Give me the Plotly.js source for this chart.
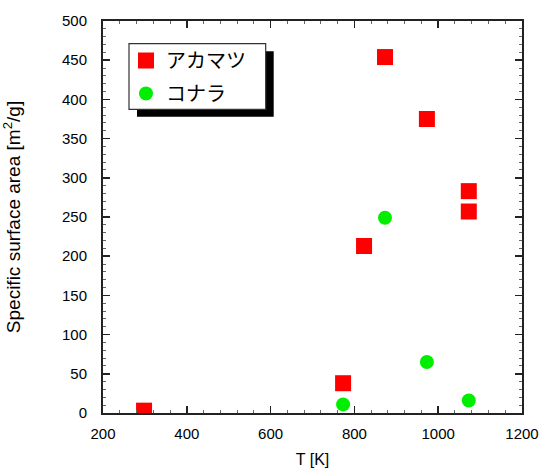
<!DOCTYPE html>
<html>
<head>
<meta charset="utf-8">
<script src="https://cdn.plot.ly/plotly-3.0.1.min.js"></script>
<style>html,body{margin:0;padding:0;background:#fff;}#chart{width:541px;height:468px;}</style>
</head>
<body>
<div id="chart"></div>
<script>
const akamatsuName = "アカマツ";
const akamatsuT = [298, 773, 823, 873, 973, 1073, 1073];
const akamatsuArea = [3, 38, 213, 454, 375, 283, 257];

const konaraName = "コナラ";
const konaraT = [773, 873, 973, 1073];
const konaraArea = [11, 249, 65, 16];

const xTitle = "T [K]";
const yTitle = "Specific surface area [m<sup>2</sup>/g]";

const FONT = "Liberation Sans, Arial, Helvetica, Noto Sans CJK JP, sans-serif";

// plot area in pixels
const L = 103, R = 19, T = 21, B = 55, W = 541, H = 468;
const PW = W - L - R, PH = H - T - B;
const px = v => (v - L) / PW;
const py = v => 1 - (v - T) / PH;

const traces = [
  {
    x: akamatsuT, y: akamatsuArea, name: akamatsuName, type: "scatter", mode: "markers",
    legendgroup: "a",
    marker: {symbol: "square", size: 16, color: "#ff0000"}
  },
  {
    x: konaraT, y: konaraArea, name: konaraName, type: "scatter", mode: "markers",
    legendgroup: "b",
    marker: {symbol: "circle", size: 14, color: "#00ee00"}
  }
];

const axisCommon = {
  showgrid: false, zeroline: false,
  showline: true, linecolor: "#222", linewidth: 2, mirror: "ticks",
  ticks: "inside", ticklen: 7, tickwidth: 1.5, tickcolor: "#222",
  tickfont: {family: FONT, size: 15, color: "#000"},
  minor: {ticks: "inside", ticklen: 3, tickwidth: 1, tickcolor: "#666"}
};

const layout = {
  width: W, height: H,
  margin: {l: L, r: R, t: T, b: B},
  paper_bgcolor: "#fff", plot_bgcolor: "#fff",
  font: {family: FONT, color: "#000"},
  showlegend: true,
  xaxis: Object.assign({}, axisCommon, {
    range: [200, 1200], dtick: 200, tick0: 200,
    ticklabelstandoff: 6,
    minor: Object.assign({}, axisCommon.minor, {dtick: 40}),
    title: {text: xTitle, font: {family: FONT, size: 16}, standoff: 17}
  }),
  yaxis: Object.assign({}, axisCommon, {
    range: [0, 500], dtick: 50,
    ticklabelstandoff: 11,
    minor: Object.assign({}, axisCommon.minor, {dtick: 10}),
    title: {text: yTitle, font: {family: FONT, size: 19}, standoff: 41}
  }),
  legend: {
    x: px(126), y: py(41), xanchor: "left", yanchor: "top",
    bgcolor: "rgba(0,0,0,0)", borderwidth: 0,
    font: {family: "Noto Sans CJK JP, " + FONT, size: 20, color: "#000"},
    traceorder: "grouped", tracegroupgap: 4,
    itemwidth: 30
  },
  shapes: [
    {
      type: "rect", xref: "paper", yref: "paper", layer: "above",
      x0: px(137), x1: px(273.7), y0: py(116.8), y1: py(51.2),
      fillcolor: "#000", line: {width: 0}
    },
    {
      type: "rect", xref: "paper", yref: "paper", layer: "above",
      x0: px(129), x1: px(265.7), y0: py(109.3), y1: py(43.7),
      fillcolor: "#fff", line: {width: 1.2, color: "#333"}
    }
  ]
};

Plotly.newPlot("chart", traces, layout, {displayModeBar: false, staticPlot: true});
</script>
</body>
</html>
